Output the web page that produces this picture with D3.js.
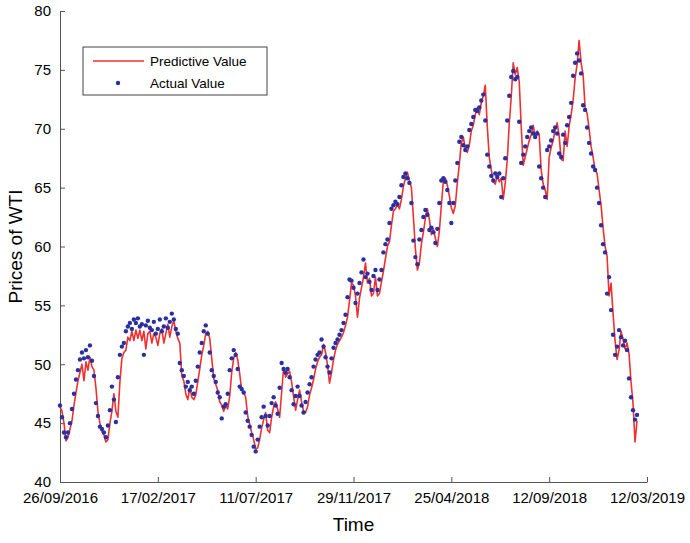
<!DOCTYPE html>
<html>
<head>
<meta charset="utf-8">
<script src="https://cdn.jsdelivr.net/npm/d3@7"></script>
<style>
  body { margin: 0; background: #fff; }
  svg { display: block; font-family: "Liberation Sans", Arial, sans-serif; }
  .axis path, .axis line { stroke: #555; }
  .axis text { fill: #000; font-size: 15px; }
</style>
</head>
<body>
<div id="chart"></div>
<script>
(function() {

const w = 690;
const h = 543;
const margin = {top: 11, right: 43, bottom: 61, left: 60};

// tick labels on the time axis (trading-day index)
const tickDates = ["26/09/2016", "17/02/2017", "11/07/2017", "29/11/2017", "25/04/2018", "12/09/2018", "12/03/2019"];
const tickIndex = [0, 49, 98, 147, 196, 245, 294];

const actualValue = [
    46.5,45.5,44.2,43.8,44.2,45.0,46.2,47.5,48.7,49.5,
    50.4,51.0,50.5,51.2,50.6,51.6,50.3,49.0,46.7,45.6,
    44.7,44.5,44.2,43.8,44.8,46.1,48.1,47.0,45.1,48.9,
    50.8,51.5,51.8,52.8,53.2,53.5,53.0,53.8,53.5,53.9,
    53.2,53.4,50.8,53.3,53.7,53.1,52.9,53.6,52.6,53.0,
    53.8,52.8,53.2,53.9,53.1,53.6,54.3,53.8,53.0,52.6,
    50.1,49.5,49.0,48.1,48.5,47.8,48.1,47.5,48.6,49.8,
    51.0,51.8,52.8,53.3,52.6,51.0,49.5,49.0,48.5,47.6,
    47.2,45.4,46.4,46.6,47.5,49.5,50.5,51.2,50.8,49.6,
    48.1,47.9,47.6,45.9,45.2,44.7,44.0,43.0,42.6,43.6,
    44.7,45.5,46.4,45.6,44.8,45.6,46.7,47.2,46.5,45.8,
    48.0,50.1,49.6,49.3,49.6,48.9,47.8,46.6,47.3,48.1,
    47.3,46.5,45.9,46.8,47.6,48.3,48.9,49.8,50.4,50.8,
    51.0,52.1,51.5,50.6,49.8,49.3,50.5,51.4,51.8,52.1,
    52.5,52.9,53.5,54.2,55.7,57.2,57.1,56.5,55.2,56.0,
    56.9,57.8,58.9,57.4,57.7,57.0,56.3,57.5,58.0,56.3,
    57.2,58.0,59.5,60.2,60.6,62.0,63.2,63.5,63.8,63.6,
    64.2,65.2,65.9,66.2,65.8,65.4,63.7,60.5,59.1,58.5,
    60.6,61.4,62.5,63.1,62.7,61.4,61.6,61.2,60.3,61.5,
    63.7,65.6,65.8,65.5,64.8,63.7,62.0,63.7,65.6,67.1,
    68.9,69.3,68.6,68.2,68.5,69.9,70.4,71.0,71.6,71.5,
    71.8,72.4,72.9,70.7,67.8,66.8,66.0,65.6,66.2,65.9,
    66.2,64.2,65.8,67.5,70.7,72.8,74.4,74.9,74.2,74.4,
    70.6,67.1,67.8,68.5,69.3,69.8,70.1,69.6,69.3,69.6,
    66.8,65.8,65.0,64.2,68.2,68.5,69.0,69.8,70.1,69.6,
    67.9,67.6,69.5,68.8,70.3,71.0,72.2,74.5,75.6,76.4,
    75.8,74.7,72.0,71.6,70.1,68.8,67.9,66.8,66.5,65.0,
    63.7,61.8,60.2,59.5,56.0,57.4,54.6,52.5,50.8,51.5,
    52.9,52.3,51.6,52.0,51.2,48.8,47.2,46.1,45.3,45.7
];

const predictiveValue = [
    46.4,46.0,45.0,43.5,43.8,44.5,45.2,46.5,47.6,48.6,
    49.3,50.0,48.6,50.2,49.5,50.6,49.8,49.5,48.0,46.0,
    45.0,44.3,44.0,43.4,43.6,45.0,46.0,47.5,46.0,45.5,
    48.5,50.5,51.0,51.2,52.3,52.0,52.8,52.0,52.9,52.2,
    52.9,52.0,52.8,51.3,52.6,52.8,51.8,52.6,52.3,51.6,
    52.6,53.0,51.8,52.6,53.4,52.3,53.2,53.7,52.8,52.2,
    51.8,49.0,48.6,47.5,47.0,48.0,47.2,47.0,47.4,48.5,
    49.6,50.8,51.6,52.6,52.8,52.2,50.5,48.8,48.3,47.8,
    46.8,46.5,46.0,46.5,46.2,47.3,49.3,50.5,51.0,50.4,
    49.2,47.8,47.6,47.2,45.6,44.9,44.2,43.6,42.8,42.9,
    43.6,44.6,45.3,45.9,44.4,44.2,45.5,46.4,46.8,46.2,
    45.5,47.6,49.7,48.9,49.2,49.4,48.5,47.2,46.1,47.0,
    47.8,46.8,46.0,45.9,46.4,47.4,48.0,48.7,49.6,50.2,
    50.6,50.8,51.7,51.0,49.9,48.4,49.3,50.4,51.2,51.7,
    52.0,52.3,52.7,53.3,54.0,55.4,56.9,56.7,55.8,54.0,
    55.6,56.5,57.4,58.6,56.9,57.3,55.8,56.0,57.4,55.8,
    56.0,57.0,57.9,59.0,60.0,60.4,61.8,63.0,63.2,63.6,
    63.2,64.0,65.1,65.8,66.3,65.6,65.0,62.5,59.8,58.0,
    58.6,60.2,61.2,62.4,63.2,62.3,61.0,61.5,60.7,60.0,
    61.3,63.5,65.5,65.8,65.2,64.3,63.3,62.8,63.5,65.4,
    67.0,68.8,69.3,68.2,68.0,68.6,69.8,70.3,71.2,71.8,
    71.2,72.2,72.8,73.7,70.2,67.6,66.5,65.5,65.3,66.0,
    65.5,65.8,64.0,65.4,67.3,70.4,72.7,75.6,74.6,75.2,
    74.0,70.2,66.9,67.6,68.3,69.0,69.5,70.3,69.3,69.8,
    69.5,66.5,65.3,64.8,64.0,67.6,68.4,69.0,69.9,70.5,
    69.4,67.4,67.3,69.8,68.5,70.2,71.2,72.4,74.3,75.5,
    77.5,75.6,74.6,71.8,71.3,70.0,68.5,67.6,66.5,66.2,
    64.8,63.5,61.6,60.0,59.2,55.8,56.9,54.3,52.0,50.4,
    51.2,52.8,52.1,51.3,51.8,50.9,48.5,46.7,43.4,45.2
];

const yTicks = [40, 45, 50, 55, 60, 65, 70, 75, 80];

const svg = d3.select("#chart")
    .append("svg")
    .attr("width", w)
    .attr("height", h);

const xScale = d3.scaleLinear()
    .domain([0, 294])
    .range([margin.left, w - margin.right]);

const yScale = d3.scaleLinear()
    .domain([40, 80])
    .range([h - margin.bottom, margin.top]);

// axes, ticks point inward like matlab
const xAxis = d3.axisBottom(xScale)
    .tickValues(tickIndex)
    .tickFormat(function(d, i) { return tickDates[i]; })
    .tickSizeInner(-5)
    .tickSizeOuter(0)
    .tickPadding(10);

const yAxis = d3.axisLeft(yScale)
    .tickValues(yTicks)
    .tickSizeInner(-5)
    .tickSizeOuter(0)
    .tickPadding(9);

svg.append("g")
    .attr("class", "axis")
    .attr("transform", `translate(0,${h - margin.bottom})`)
    .call(xAxis);

svg.append("g")
    .attr("class", "axis")
    .attr("transform", `translate(${margin.left},0)`)
    .call(yAxis);

const line = d3.line()
    .x(function(d, i) { return xScale(i); })
    .y(function(d) { return yScale(d); });

svg.append("path")
    .datum(predictiveValue)
    .attr("d", line)
    .attr("fill", "none")
    .attr("stroke", "#f03030")
    .attr("stroke-width", 1.6)
    .attr("stroke-linejoin", "round");

svg.selectAll("circle.actual")
    .data(actualValue)
    .enter()
    .append("circle")
    .attr("class", "actual")
    .attr("cx", function(d, i) { return xScale(i); })
    .attr("cy", function(d) { return yScale(d); })
    .attr("r", 2.2)
    .attr("fill", "#2b30a0");

// axis labels
svg.append("text")
    .attr("x", (margin.left + w - margin.right) / 2)
    .attr("y", 531)
    .attr("text-anchor", "middle")
    .attr("font-size", 19)
    .attr("fill", "#000")
    .text("Time");

svg.append("text")
    .attr("transform", `translate(22,${(margin.top + h - margin.bottom) / 2}) rotate(-90)`)
    .attr("text-anchor", "middle")
    .attr("font-size", 19)
    .attr("fill", "#000")
    .text("Prices of WTI");

// legend
const legend = svg.append("g");

legend.append("rect")
    .attr("x", 83)
    .attr("y", 47)
    .attr("width", 184)
    .attr("height", 48)
    .attr("fill", "#fff")
    .attr("stroke", "#444");

legend.append("line")
    .attr("x1", 93)
    .attr("y1", 61)
    .attr("x2", 144)
    .attr("y2", 61)
    .attr("stroke", "#f03030")
    .attr("stroke-width", 1.6);

legend.append("circle")
    .attr("cx", 118)
    .attr("cy", 83)
    .attr("r", 2.2)
    .attr("fill", "#2b30a0");

legend.append("text")
    .attr("x", 150)
    .attr("y", 66)
    .attr("font-size", 13.5)
    .attr("fill", "#000")
    .text("Predictive Value");

legend.append("text")
    .attr("x", 150)
    .attr("y", 88)
    .attr("font-size", 13.5)
    .attr("fill", "#000")
    .text("Actual Value");

})();
</script>
</body>
</html>
